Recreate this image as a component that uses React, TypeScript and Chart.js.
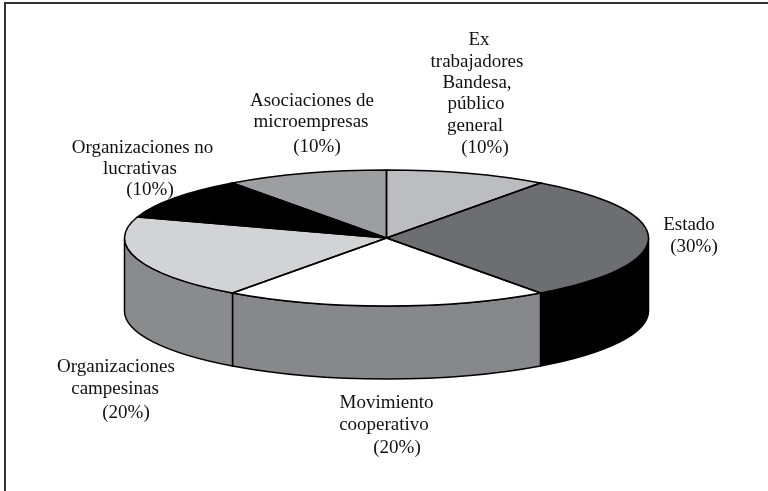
import React, { useEffect, useRef } from "react";
import { Chart, registerables } from "chart.js";

Chart.register(...registerables);

const categories = [
  "Ex trabajadores Bandesa, público general",
  "Estado",
  "Movimiento cooperativo",
  "Organizaciones campesinas",
  "Organizaciones no lucrativas",
  "Asociaciones de microempresas",
];
const shares = [10, 30, 20, 20, 10, 10];
const topColors = ["#bcbdc0", "#6d6e71", "#ffffff", "#d1d3d4", "#000000", "#9d9ea0"];
const wallColors = ["#bcbdc0", "#000000", "#87888b", "#8a8b8d", "#000000", "#9d9ea0"];

// [text, centre x, baseline y]
const labelLines: [string, number, number][] = [
  ["Ex", 479, 45],
  ["trabajadores", 477, 67],
  ["Bandesa,", 477, 88],
  ["público", 476, 109],
  ["general", 475, 131],
  ["(10%)", 485, 153],
  ["Estado", 689, 230],
  ["(30%)", 694, 252],
  ["Movimiento", 386.5, 408],
  ["cooperativo", 384, 430],
  ["(20%)", 397, 453],
  ["Organizaciones", 116, 372],
  ["campesinas", 115, 394],
  ["(20%)", 126, 418],
  ["Organizaciones no", 142.5, 153],
  ["lucrativas", 140, 174],
  ["(10%)", 150, 195],
  ["Asociaciones de", 312, 106],
  ["microempresas", 311, 127],
  ["(10%)", 317, 152],
];

const RADIUS = 262;
const SQUASH_CY = 238;
const SQUASH_RY = 68;
const DEPTH = 73;

const pie3d = {
  id: "pie3d",
  beforeDraw(chart: any) {
    const ctx = chart.ctx;
    ctx.save();
    ctx.fillStyle = "#ffffff";
    ctx.fillRect(0, 0, chart.width, chart.height);
    ctx.strokeStyle = "#333333";
    ctx.lineWidth = 2;
    ctx.beginPath();
    ctx.moveTo(5, chart.height);
    ctx.lineTo(5, 3);
    ctx.lineTo(chart.width, 3);
    ctx.stroke();
    ctx.restore();
  },
  beforeDatasetsDraw(chart: any) {
    const ctx = chart.ctx;
    const arcs = chart.getDatasetMeta(0).data;
    ctx.save();
    ctx.lineWidth = 1.5;
    ctx.strokeStyle = "#000000";
    arcs.forEach((el: any, i: number) => {
      const p = el.getProps(["x", "startAngle", "endAngle", "outerRadius"]);
      const a0 = Math.max(p.startAngle, 0);
      const a1 = Math.min(p.endAngle, Math.PI);
      if (a1 <= a0) return;
      const rx = p.outerRadius;
      ctx.beginPath();
      ctx.ellipse(p.x, SQUASH_CY, rx, SQUASH_RY, 0, a0, a1);
      ctx.ellipse(p.x, SQUASH_CY + DEPTH, rx, SQUASH_RY, 0, a1, a0, true);
      ctx.closePath();
      ctx.fillStyle = wallColors[i];
      ctx.fill();
      ctx.stroke();
    });
    ctx.restore();
    // Squash the library's round pie into the tilted top face.
    const first = arcs[0].getProps(["x", "y", "outerRadius"]);
    ctx.save();
    ctx.translate(0, SQUASH_CY);
    ctx.scale(1, SQUASH_RY / first.outerRadius);
    ctx.translate(0, -first.y);
  },
  afterDatasetsDraw(chart: any) {
    const ctx = chart.ctx;
    ctx.restore();
    const arcs = chart.getDatasetMeta(0).data;
    ctx.save();
    ctx.lineWidth = 1.5;
    ctx.strokeStyle = "#000000";
    arcs.forEach((el: any) => {
      const p = el.getProps(["x", "startAngle", "endAngle", "outerRadius"]);
      ctx.beginPath();
      ctx.moveTo(p.x, SQUASH_CY);
      ctx.ellipse(p.x, SQUASH_CY, p.outerRadius, SQUASH_RY, 0, p.startAngle, p.endAngle);
      ctx.closePath();
      ctx.stroke();
    });
    ctx.fillStyle = "#111111";
    ctx.font = '19px "Liberation Serif"';
    ctx.textAlign = "center";
    ctx.textBaseline = "alphabetic";
    labelLines.forEach(([t, x, y]) => ctx.fillText(t, x, y));
    ctx.restore();
  },
};

export default function App() {
  const ref = useRef<HTMLCanvasElement>(null);
  useEffect(() => {
    document.body.style.margin = "0";
    const chart = new Chart(ref.current!, {
      type: "pie",
      data: {
        labels: categories,
        datasets: [
          {
            data: shares,
            backgroundColor: topColors,
            borderWidth: 0,
            clip: false,
          } as any,
        ],
      },
      options: {
        responsive: false,
        maintainAspectRatio: false,
        animation: false,
        radius: RADIUS,
        layout: { padding: { left: 5 } },
        plugins: { legend: { display: false }, tooltip: { enabled: false } },
      } as any,
      plugins: [pie3d],
    });
    return () => chart.destroy();
  }, []);
  return <canvas ref={ref} width={768} height={491} style={{ display: "block" }} />;
}
